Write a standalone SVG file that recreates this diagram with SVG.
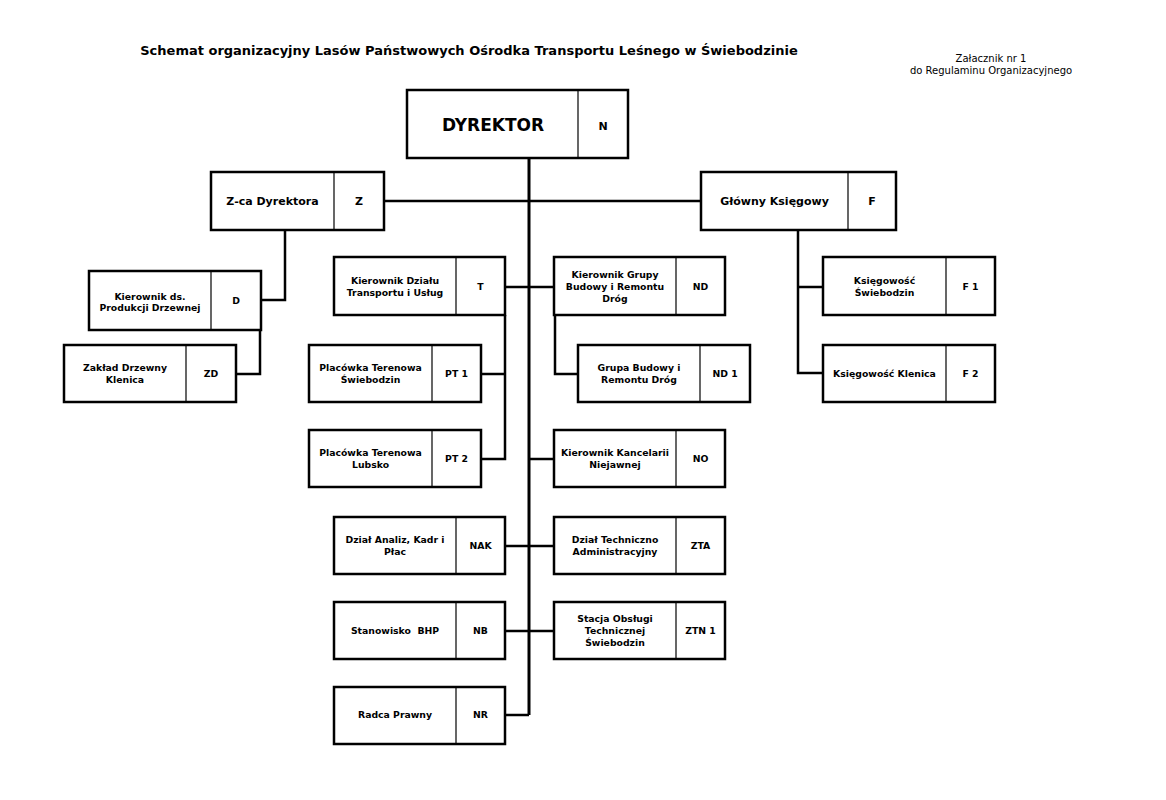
<svg xmlns="http://www.w3.org/2000/svg" width="1166" height="800" viewBox="0 0 1166 800">
<style>
.b{fill:#fff;stroke:#000;stroke-width:2.5}
.dv{stroke:#000;stroke-width:1.2}
.t{font-family:"DejaVu Sans","Liberation Sans",sans-serif;font-weight:bold;font-size:9.3px;text-anchor:middle;fill:#000}
.t1{font-family:"DejaVu Sans","Liberation Sans",sans-serif;font-weight:bold;font-size:11px;text-anchor:middle;fill:#000}
.c{fill:none;stroke:#000;stroke-width:2.5}
</style>
<rect width="1166" height="800" fill="#fff"/>
<text x="469" y="55" style="font-family:'DejaVu Sans',sans-serif;font-weight:bold;font-size:13px;text-anchor:middle">Schemat organizacyjny Lasów Państwowych Ośrodka Transportu Leśnego w Świebodzinie</text>
<g style="font-family:'DejaVu Sans',sans-serif;font-size:10px;text-anchor:middle">
<text x="991" y="62">Załacznik nr 1</text>
<text x="991" y="74">do Regulaminu Organizacyjnego</text>
</g>
<g id="connectors">
<path class="c" d="M529,158 V715" style="stroke-width:3"/>
<path class="c" d="M384,201 H701"/>
<path class="c" d="M285,230 V300 H261"/>
<path class="c" d="M260,330 V374 H236"/>
<path class="c" d="M505,287 H554"/>
<path class="c" d="M505,315 V459 H481"/>
<path class="c" d="M481,374 H505"/>
<path class="c" d="M555,315 V374 H578"/>
<path class="c" d="M529,459 H554"/>
<path class="c" d="M505,546 H554"/>
<path class="c" d="M505,631 H554"/>
<path class="c" d="M505,715 H529"/>
<path class="c" d="M798,230 V373 H823 M798,287 H823"/>
</g>
<g id="dyrektor">
<rect class="b" x="407" y="90" width="221" height="68"/>
<line class="dv" x1="578" y1="90" x2="578" y2="158"/>
<text x="493" y="131" style="font-family:'DejaVu Sans',sans-serif;font-weight:bold;font-size:17px;text-anchor:middle">DYREKTOR</text>
<text x="603" y="130" class="t1">N</text>
</g>
<g id="zca">
<rect class="b" x="211" y="172" width="173" height="58"/>
<line class="dv" x1="334" y1="172" x2="334" y2="230"/>
<text x="272.5" y="205" class="t1">Z-ca Dyrektora</text>
<text x="359" y="205" class="t1">Z</text>
</g>
<g id="gk">
<rect class="b" x="701" y="172" width="195" height="58"/>
<line class="dv" x1="848" y1="172" x2="848" y2="230"/>
<text x="774.5" y="205" class="t1">Główny Księgowy</text>
<text x="872" y="205" class="t1">F</text>
</g>
<g id="d">
<rect class="b" x="89" y="271" width="172" height="59"/>
<line class="dv" x1="211" y1="271" x2="211" y2="330"/>
<text x="150" y="300" class="t">Kierownik ds.</text>
<text x="150" y="311" class="t">Produkcji Drzewnej</text>
<text x="236" y="304" class="t">D</text>
</g>
<g id="zd">
<rect class="b" x="64" y="345" width="172" height="57"/>
<line class="dv" x1="186" y1="345" x2="186" y2="402"/>
<text x="125" y="371" class="t">Zakład Drzewny</text>
<text x="125" y="383" class="t">Klenica</text>
<text x="211" y="377" class="t">ZD</text>
</g>
<g id="t">
<rect class="b" x="334" y="257" width="171" height="58"/>
<line class="dv" x1="456" y1="257" x2="456" y2="315"/>
<text x="395" y="284" class="t">Kierownik Działu</text>
<text x="395" y="296" class="t">Transportu i Usług</text>
<text x="480.5" y="290" class="t">T</text>
</g>
<g id="nd">
<rect class="b" x="554" y="257" width="171" height="58"/>
<line class="dv" x1="676" y1="257" x2="676" y2="315"/>
<text x="615" y="278" class="t">Kierownik Grupy</text>
<text x="615" y="290" class="t">Budowy i Remontu</text>
<text x="615" y="302" class="t">Dróg</text>
<text x="700.5" y="290" class="t">ND</text>
</g>
<g id="nd1">
<rect class="b" x="578" y="345" width="172" height="57"/>
<line class="dv" x1="700" y1="345" x2="700" y2="402"/>
<text x="639" y="371" class="t">Grupa Budowy i</text>
<text x="639" y="383" class="t">Remontu Dróg</text>
<text x="725" y="377" class="t">ND 1</text>
</g>
<g id="pt1">
<rect class="b" x="309" y="345" width="172" height="57"/>
<line class="dv" x1="432" y1="345" x2="432" y2="402"/>
<text x="370.5" y="371" class="t">Placówka Terenowa</text>
<text x="370.5" y="383" class="t">Świebodzin</text>
<text x="456.5" y="377" class="t">PT 1</text>
</g>
<g id="pt2">
<rect class="b" x="309" y="430" width="172" height="57"/>
<line class="dv" x1="432" y1="430" x2="432" y2="487"/>
<text x="370.5" y="456" class="t">Placówka Terenowa</text>
<text x="370.5" y="468" class="t">Lubsko</text>
<text x="456.5" y="462" class="t">PT 2</text>
</g>
<g id="no">
<rect class="b" x="554" y="430" width="171" height="57"/>
<line class="dv" x1="676" y1="430" x2="676" y2="487"/>
<text x="615" y="456" class="t">Kierownik Kancelarii</text>
<text x="615" y="468" class="t">Niejawnej</text>
<text x="700.5" y="462" class="t">NO</text>
</g>
<g id="nak">
<rect class="b" x="334" y="517" width="171" height="57"/>
<line class="dv" x1="456" y1="517" x2="456" y2="574"/>
<text x="395" y="543" class="t">Dział Analiz, Kadr i</text>
<text x="395" y="555" class="t">Płac</text>
<text x="480.5" y="549" class="t">NAK</text>
</g>
<g id="zta">
<rect class="b" x="554" y="517" width="171" height="57"/>
<line class="dv" x1="676" y1="517" x2="676" y2="574"/>
<text x="615" y="543" class="t">Dział Techniczno</text>
<text x="615" y="555" class="t">Administracyjny</text>
<text x="700.5" y="549" class="t">ZTA</text>
</g>
<g id="nb">
<rect class="b" x="334" y="602" width="171" height="57"/>
<line class="dv" x1="456" y1="602" x2="456" y2="659"/>
<text x="395" y="634" class="t" xml:space="preserve">Stanowisko  BHP</text>
<text x="480.5" y="634" class="t">NB</text>
</g>
<g id="ztn1">
<rect class="b" x="554" y="602" width="171" height="57"/>
<line class="dv" x1="676" y1="602" x2="676" y2="659"/>
<text x="615" y="622" class="t">Stacja Obsługi</text>
<text x="615" y="634" class="t">Technicznej</text>
<text x="615" y="646" class="t">Świebodzin</text>
<text x="700.5" y="634" class="t">ZTN 1</text>
</g>
<g id="nr">
<rect class="b" x="334" y="687" width="171" height="57"/>
<line class="dv" x1="456" y1="687" x2="456" y2="744"/>
<text x="395" y="718" class="t">Radca Prawny</text>
<text x="480.5" y="718" class="t">NR</text>
</g>
<g id="f1">
<rect class="b" x="823" y="257" width="172" height="58"/>
<line class="dv" x1="946" y1="257" x2="946" y2="315"/>
<text x="884.5" y="284" class="t">Księgowość</text>
<text x="884.5" y="296" class="t">Świebodzin</text>
<text x="970.5" y="290" class="t">F 1</text>
</g>
<g id="f2">
<rect class="b" x="823" y="345" width="172" height="57"/>
<line class="dv" x1="946" y1="345" x2="946" y2="402"/>
<text x="884.5" y="377" class="t">Księgowość Klenica</text>
<text x="970.5" y="377" class="t">F 2</text>
</g>
</svg>
